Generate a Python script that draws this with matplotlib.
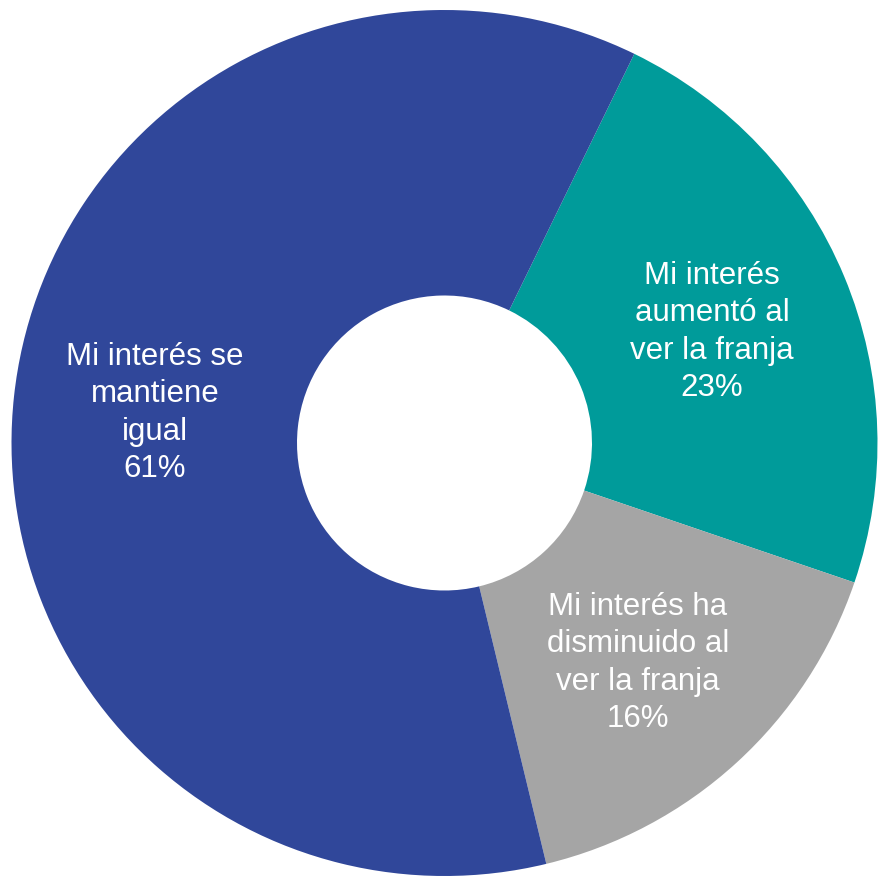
import matplotlib.pyplot as plt

labels = ["Mi interés\naumentó al\nver la franja", "Mi interés ha\ndisminuido al\nver la franja", "Mi interés se\nmantiene\nigual"]
values = [23, 16, 61]
colors = ["#009B9A", "#A5A5A5", "#30479A"]

plt.rcParams['font.family'] = ['Liberation Sans', 'DejaVu Sans']

W, H = 879, 878
fig = plt.figure(figsize=(W / 100, H / 100), dpi=100)
ax = fig.add_axes([0, 0, 1, 1])

# ring geometry in pixels
R = 433.0
hole = 147.5
cx, cy = 444.5, 444.0  # from top-left

wedges, _ = ax.pie(values, colors=colors, startangle=64, counterclock=False,
                   radius=1.0, wedgeprops=dict(width=1 - hole / R, linewidth=0))

ax.set_xlim(-cx / R, (W - cx) / R)
ax.set_ylim(-(H - cy) / R, cy / R)
ax.set_aspect('equal')
ax.axis('off')

# label centres (px)
label_pos = [(712, 332), (638, 663), (155, 413)]
for lab, v, (px, py) in zip(labels, values, label_pos):
    ax.text((px - cx) / R, (cy - py) / R, f"{lab}\n{v}%", ha='center', va='center',
            color='white', fontsize=22.5, linespacing=1.33)

fig.savefig("out.png", dpi=100)
